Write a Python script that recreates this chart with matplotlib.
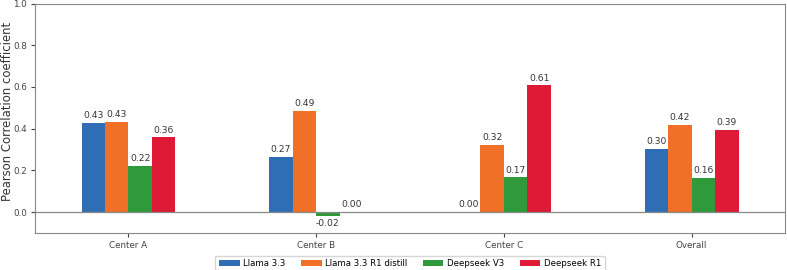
import numpy as np
import matplotlib.pyplot as plt

centers = ['Center A', 'Center B', 'Center C', 'Overall']
models = ['Llama 3.3', 'Llama 3.3 R1 distill', 'Deepseek V3', 'Deepseek R1']
llama = [0.428, 0.266, 0.0, 0.302]
llama_r1 = [0.432, 0.487, 0.321, 0.417]
ds_v3 = [0.222, -0.018, 0.167, 0.164]
ds_r1 = [0.358, 0.0, 0.608, 0.394]
colors = ['#2f6db5', '#f07027', '#2e9a3b', '#df1a37']

values = [llama, llama_r1, ds_v3, ds_r1]
x = np.arange(len(centers))
width = 0.125

fig, ax = plt.subplots(figsize=(7.87, 2.70), dpi=100)
for i, (name, vals) in enumerate(zip(models, values)):
    bars = ax.bar(x + (i - 1.5) * width, vals, width, color=colors[i], label=name)
    ax.bar_label(bars, fmt='%.2f', padding=2, fontsize=6.6, color='#333333')

ax.axhline(0, color='#888888', linewidth=0.9)
ax.set_xlim(-0.5, 3.5)
ax.set_ylim(-0.1, 1.0)
ax.set_xticks(x)
ax.set_xticklabels(centers)
ax.set_yticks([0.0, 0.2, 0.4, 0.6, 0.8, 1.0])
ax.set_ylabel('Pearson Correlation coefficient', fontsize=8.4, color='#333333')
ax.yaxis.set_label_coords(-0.028, 0.53)
ax.tick_params(labelsize=6.3, colors='#444444', length=3, pad=2.5)
for s in ax.spines.values():
    s.set_color('#888888')

ax.legend(loc='upper center', bbox_to_anchor=(0.5, -0.08), ncol=4, fontsize=6.2,
          frameon=True, handlelength=2.4, handletextpad=0.4, columnspacing=1.8)
fig.subplots_adjust(left=0.044, right=0.998, top=0.987, bottom=0.137)
fig.savefig('out.png', dpi=100)
